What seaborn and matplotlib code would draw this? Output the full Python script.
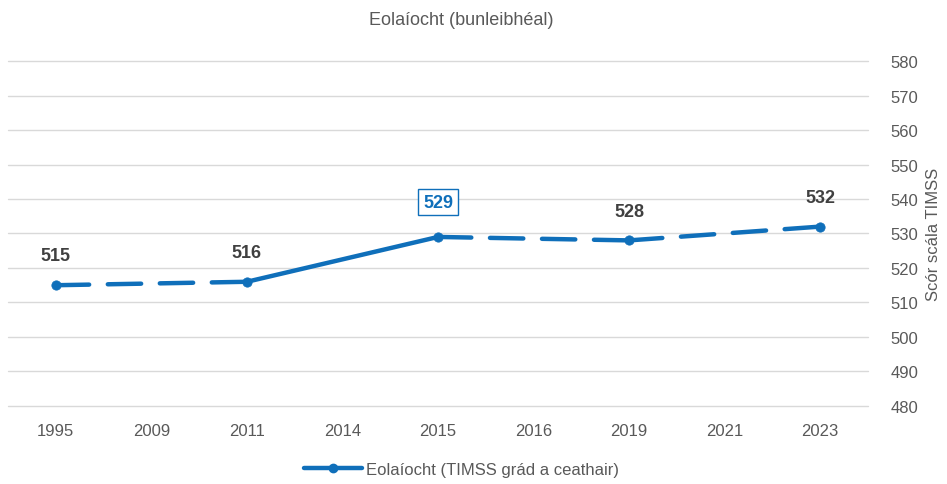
import numpy as np
import pandas as pd
import seaborn as sns
import matplotlib.pyplot as plt
from matplotlib.lines import Line2D

years = ["1995", "2009", "2011", "2014", "2015", "2016", "2019", "2021", "2023"]
data_years = ["1995", "2011", "2015", "2019", "2023"]
scores = [515, 516, 529, 528, 532]
# segment styles between consecutive data points
segment_dashed = [True, False, True, True]

blue = "#0F6FBA"
grey = "#404040"

sns.set_theme(style="white")
plt.rcParams["font.family"] = ["Liberation Sans", "DejaVu Sans"]

df = pd.DataFrame({"year": data_years, "score": scores})
df["pos"] = [years.index(y) for y in data_years]

fig = plt.figure(figsize=(9.47, 4.85), dpi=100)
ax = fig.add_axes([0.0085, 0.161, 0.908, 0.711])

for i in range(len(df) - 1):
    seg = df.iloc[i:i + 2]
    sns.lineplot(data=seg, x="pos", y="score", ax=ax, color=blue, linewidth=3.2,
                 linestyle=(0, (7.5, 4.2)) if segment_dashed[i] else "-",
                 solid_capstyle="round", dash_capstyle="round", legend=False)
sns.scatterplot(data=df, x="pos", y="score", ax=ax, color=blue, s=45,
                edgecolor=blue, zorder=5, legend=False)

for _, r in df.iterrows():
    if r["year"] == "2015":
        ax.annotate(str(r["score"]), (r["pos"], r["score"]), xytext=(0, 19),
                    textcoords="offset points", ha="center", va="bottom",
                    fontsize=13, fontweight="bold", color=blue,
                    bbox=dict(boxstyle="square,pad=0.25", fc="white", ec=blue, lw=1))
    else:
        ax.annotate(str(r["score"]), (r["pos"], r["score"]), xytext=(0, 15),
                    textcoords="offset points", ha="center", va="bottom",
                    fontsize=13, fontweight="bold", color=grey)

ax.set_xlim(-0.5, len(years) - 0.5)
ax.set_ylim(480, 580)
ax.set_xticks(range(len(years)))
ax.set_xticklabels(years)
ax.set_yticks(np.arange(480, 581, 10))
ax.yaxis.tick_right()
ax.yaxis.set_label_position("right")
ax.grid(axis="y", color="#D9D9D9", linewidth=1)
for gl in ax.get_ygridlines():
    gl.set_clip_on(False)
for s in ax.spines.values():
    s.set_visible(False)
ax.tick_params(axis="both", length=0, labelsize=12, colors="#595959", pad=12)
ax.tick_params(axis="y", pad=16)
ax.set_xlabel("")
ax.set_ylabel("Scór scála TIMSS", fontsize=12, color="#595959", labelpad=6)

fig.text(0.487, 0.958, "Eolaíocht (bunleibhéal)", ha="center", va="center",
         fontsize=13, color="#595959")

handle = Line2D([0], [0], color=blue, linewidth=3.2, marker="o", markersize=6)
fig.legend([handle], ["Eolaíocht (TIMSS grád a ceathair)"], loc="center",
           bbox_to_anchor=(0.487, 0.03), frameon=False, fontsize=12,
           labelcolor="#595959", handlelength=3.5, handletextpad=0.2)

fig.savefig("out.png", dpi=100)
